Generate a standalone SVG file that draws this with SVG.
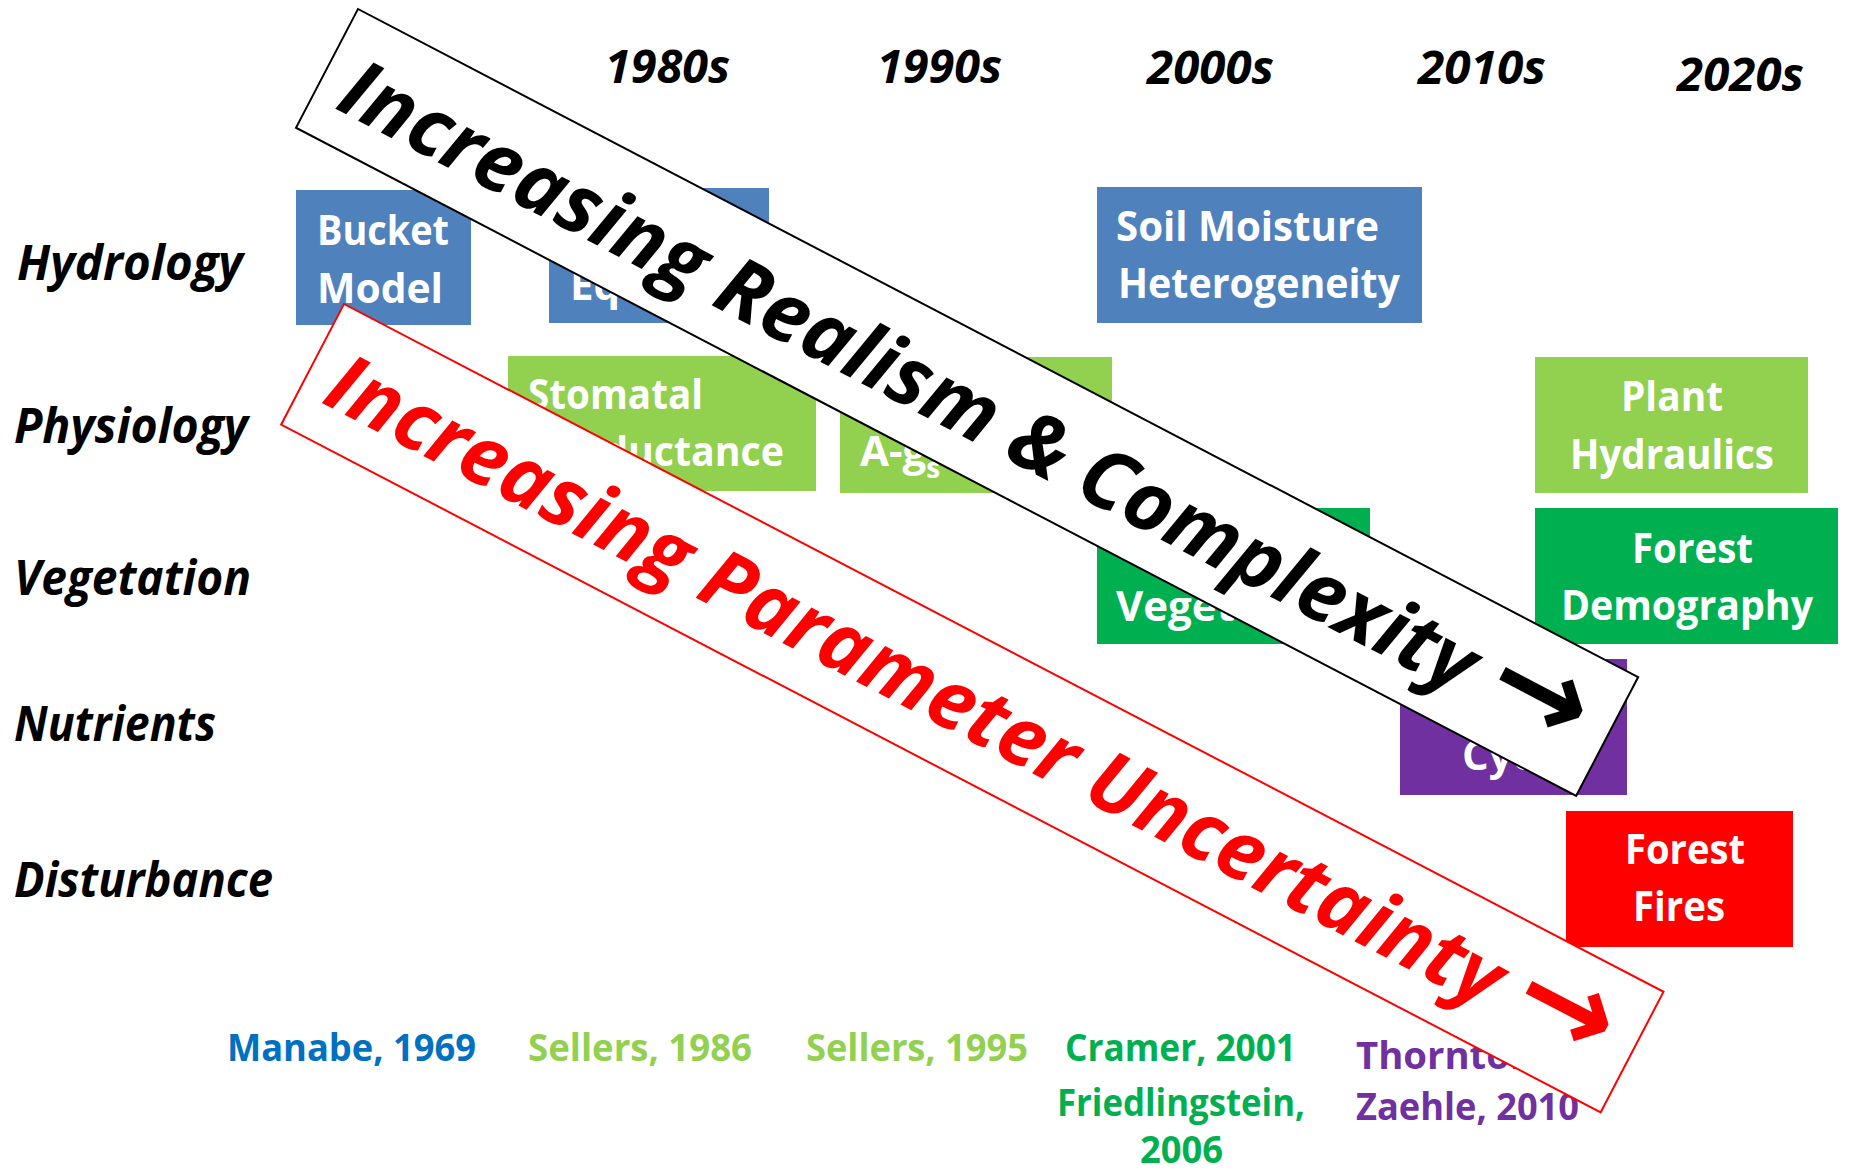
<svg xmlns="http://www.w3.org/2000/svg" width="1849" height="1170" viewBox="0 0 1849 1170">
<style>
  .bx text{font-family:'Open Sans','Liberation Sans',sans-serif;font-weight:700;font-size:42px;fill:#fff}
  .yr{font-family:'Open Sans','Liberation Sans',sans-serif;font-weight:700;font-style:italic;font-size:46px;fill:#000}
  .row{font-family:'Open Sans','Liberation Sans',sans-serif;font-weight:700;font-style:italic;font-size:48px;fill:#000}
  .cite{font-family:'Open Sans','Liberation Sans',sans-serif;font-weight:700;font-size:38px}
  .ban{font-family:'Open Sans','DejaVu Sans',sans-serif;font-weight:700;font-style:italic;font-size:82px}
  .arw{font-family:'DejaVu Sans',sans-serif;font-weight:700;font-style:normal;font-size:120px}
  .blue{fill:#4F81BD}.lg{fill:#92D050}.dg{fill:#00B050}.pu{fill:#7030A0}.rd{fill:#FF0000}
</style>

<g id="years">
  <text class="yr" x="605" y="83" textLength="125" lengthAdjust="spacingAndGlyphs">1980s</text>
  <text class="yr" x="877" y="83" textLength="125" lengthAdjust="spacingAndGlyphs">1990s</text>
  <text class="yr" x="1147" y="84" textLength="127" lengthAdjust="spacingAndGlyphs">2000s</text>
  <text class="yr" x="1418" y="84" textLength="128" lengthAdjust="spacingAndGlyphs">2010s</text>
  <text class="yr" x="1677" y="91" textLength="127" lengthAdjust="spacingAndGlyphs">2020s</text>
</g>

<g id="rows">
  <text class="row" x="17" y="280" textLength="226" lengthAdjust="spacingAndGlyphs">Hydrology</text>
  <text class="row" x="14" y="443" textLength="234" lengthAdjust="spacingAndGlyphs">Physiology</text>
  <text class="row" x="14" y="595" textLength="237" lengthAdjust="spacingAndGlyphs">Vegetation</text>
  <text class="row" x="14" y="741" textLength="202" lengthAdjust="spacingAndGlyphs">Nutrients</text>
  <text class="row" x="14" y="897" textLength="259" lengthAdjust="spacingAndGlyphs">Disturbance</text>
</g>

<g id="bucket-model" class="bx">
  <rect class="blue" x="296" y="190" width="175" height="135"/>
  <text x="317" y="245" textLength="132" lengthAdjust="spacingAndGlyphs">Bucket</text>
  <text x="317" y="303" textLength="126" lengthAdjust="spacingAndGlyphs">Model</text>
</g>
<g id="equation" class="bx">
  <rect class="blue" x="549" y="188" width="220" height="135"/>
  <text x="570" y="300">Equation</text>
</g>
<g id="soil-moisture" class="bx">
  <rect class="blue" x="1097" y="187" width="325" height="136"/>
  <text x="1116" y="241" textLength="263" lengthAdjust="spacingAndGlyphs">Soil Moisture</text>
  <text x="1118" y="298" textLength="282" lengthAdjust="spacingAndGlyphs">Heterogeneity</text>
</g>
<g id="stomatal" class="bx">
  <rect class="lg" x="508" y="356" width="308" height="135"/>
  <text x="528" y="409" textLength="175" lengthAdjust="spacingAndGlyphs">Stomatal</text>
  <text x="528" y="466" textLength="256" lengthAdjust="spacingAndGlyphs">Conductance</text>
</g>
<g id="a-gs" class="bx">
  <rect class="lg" x="840" y="357" width="272" height="136"/>
  <text x="860" y="466">A-g<tspan font-size="28" dy="12">s</tspan></text>
</g>
<g id="plant-hydraulics" class="bx">
  <rect class="lg" x="1535" y="357" width="273" height="136"/>
  <text x="1621" y="411" textLength="102" lengthAdjust="spacingAndGlyphs">Plant</text>
  <text x="1570" y="469" textLength="204" lengthAdjust="spacingAndGlyphs">Hydraulics</text>
</g>
<g id="vegetation" class="bx">
  <rect class="dg" x="1097" y="508" width="273" height="136"/>
  <text x="1116" y="621">Vegetation</text>
</g>
<g id="forest-demography" class="bx">
  <rect class="dg" x="1535" y="508" width="303" height="136"/>
  <text x="1632" y="563" textLength="121" lengthAdjust="spacingAndGlyphs">Forest</text>
  <text x="1561" y="620" textLength="252" lengthAdjust="spacingAndGlyphs">Demography</text>
</g>
<g id="nutrient-cycle" class="bx">
  <rect class="pu" x="1400" y="659" width="227" height="136"/>
  <text x="1462" y="770">Cycle</text>
</g>
<g id="forest-fires" class="bx">
  <rect class="rd" x="1566" y="811" width="227" height="136"/>
  <text x="1625" y="864" textLength="120" lengthAdjust="spacingAndGlyphs">Forest</text>
  <text x="1633" y="921" textLength="92" lengthAdjust="spacingAndGlyphs">Fires</text>
</g>

<g id="citations">
  <text class="cite" fill="#0070C0" x="227" y="1061" textLength="249" lengthAdjust="spacingAndGlyphs">Manabe, 1969</text>
  <text class="cite" fill="#92D050" x="528" y="1061" textLength="224" lengthAdjust="spacingAndGlyphs">Sellers, 1986</text>
  <text class="cite" fill="#92D050" x="806" y="1061" textLength="222" lengthAdjust="spacingAndGlyphs">Sellers, 1995</text>
  <text class="cite" fill="#00B050" x="1065" y="1061" textLength="231" lengthAdjust="spacingAndGlyphs">Cramer, 2001</text>
  <text class="cite" fill="#00B050" x="1057" y="1116" textLength="248" lengthAdjust="spacingAndGlyphs">Friedlingstein,</text>
  <text class="cite" fill="#00B050" x="1140" y="1163" textLength="83" lengthAdjust="spacingAndGlyphs">2006</text>
  <text class="cite" fill="#7030A0" x="1356" y="1069" textLength="190" lengthAdjust="spacingAndGlyphs">Thornton,</text>
  <text class="cite" fill="#7030A0" x="1356" y="1120" textLength="223" lengthAdjust="spacingAndGlyphs">Zaehle, 2010</text>
</g>

<g id="banner-realism" transform="translate(358,9) rotate(27.56)">
  <rect x="0" y="0" width="1444" height="134" fill="#fff" stroke="#000" stroke-width="2"/>
  <text class="ban" fill="#000" x="24" y="99" textLength="1392" lengthAdjust="spacingAndGlyphs">Increasing Realism &amp; Complexity <tspan class="arw" dy="-2">→</tspan></text>
</g>

<g id="banner-uncertainty" transform="translate(344,304) rotate(27.53)">
  <rect x="0" y="0" width="1488" height="136" fill="#fff" stroke="#FF0000" stroke-width="2"/>
  <text class="ban" fill="#FF0000" x="24" y="98" textLength="1436" lengthAdjust="spacingAndGlyphs">Increasing Parameter Uncertainty <tspan class="arw" dy="-2">→</tspan></text>
</g>

<g id="connectors"/>
</svg>
